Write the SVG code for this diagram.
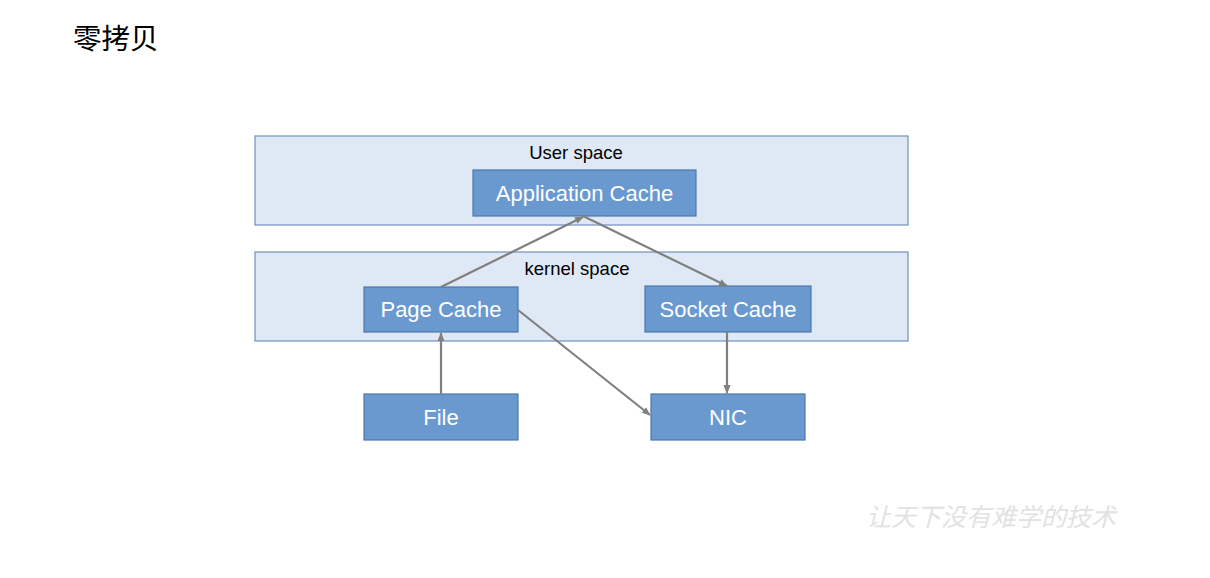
<svg xmlns="http://www.w3.org/2000/svg" width="1210" height="578" viewBox="0 0 1210 578">
<style>
.region{fill:#dfe9f5;stroke:#7290bd;stroke-width:1.2}
.node{fill:#6a99d0;stroke:#4a77ae;stroke-width:1.2}
.ntext{font-family:"Liberation Sans",Arial,sans-serif;font-size:22px;fill:#ffffff;text-anchor:middle}
.rtext{font-family:"Liberation Sans",Arial,sans-serif;font-size:18.5px;fill:#000000;text-anchor:middle}
.edge{stroke:#808080;stroke-width:2.2;fill:none;marker-end:url(#ah)}
</style>
<defs>
<marker id="ah" viewBox="0 0 10 10" refX="9" refY="5" markerWidth="4" markerHeight="4" orient="auto" markerUnits="strokeWidth">
<path d="M0,1 L10,5 L0,9 z" fill="#808080"/>
</marker>
</defs>
<rect width="1210" height="578" fill="#ffffff"/>
<text x="73" y="49" font-family="'Noto Sans CJK SC',sans-serif" font-size="28.5" fill="#000">零拷贝</text>
<g id="user-space">
<rect class="region" x="255" y="136" width="653" height="89"/>
<text class="rtext" x="576" y="159">User space</text>
</g>
<g id="kernel-space">
<rect class="region" x="255" y="252" width="653" height="89"/>
<text class="rtext" x="577" y="275">kernel space</text>
</g>
<g id="app-cache">
<rect class="node" x="473" y="170" width="223" height="46"/>
<text class="ntext" x="584.5" y="201">Application Cache</text>
</g>
<g id="page-cache">
<rect class="node" x="364" y="287" width="154" height="45"/>
<text class="ntext" x="441" y="317">Page Cache</text>
</g>
<g id="socket-cache">
<rect class="node" x="645" y="286" width="166" height="46"/>
<text class="ntext" x="728" y="317">Socket Cache</text>
</g>
<g id="file">
<rect class="node" x="364" y="394" width="154" height="46"/>
<text class="ntext" x="441" y="425">File</text>
</g>
<g id="nic">
<rect class="node" x="651" y="394" width="154" height="46"/>
<text class="ntext" x="728" y="425">NIC</text>
</g>
<g id="connectors">
<line class="edge" x1="441" y1="287" x2="583" y2="217"/>
<line class="edge" x1="583" y1="216" x2="727" y2="286"/>
<line class="edge" x1="518" y1="310" x2="650" y2="415"/>
<line class="edge" x1="727" y1="332" x2="727" y2="393"/>
<line class="edge" x1="441" y1="394" x2="441" y2="333"/>
</g>
<text x="866" y="526" font-family="'Noto Sans CJK SC',sans-serif" font-size="25" fill="#e2e2e2" font-style="italic">让天下没有难学的技术</text>
</svg>
